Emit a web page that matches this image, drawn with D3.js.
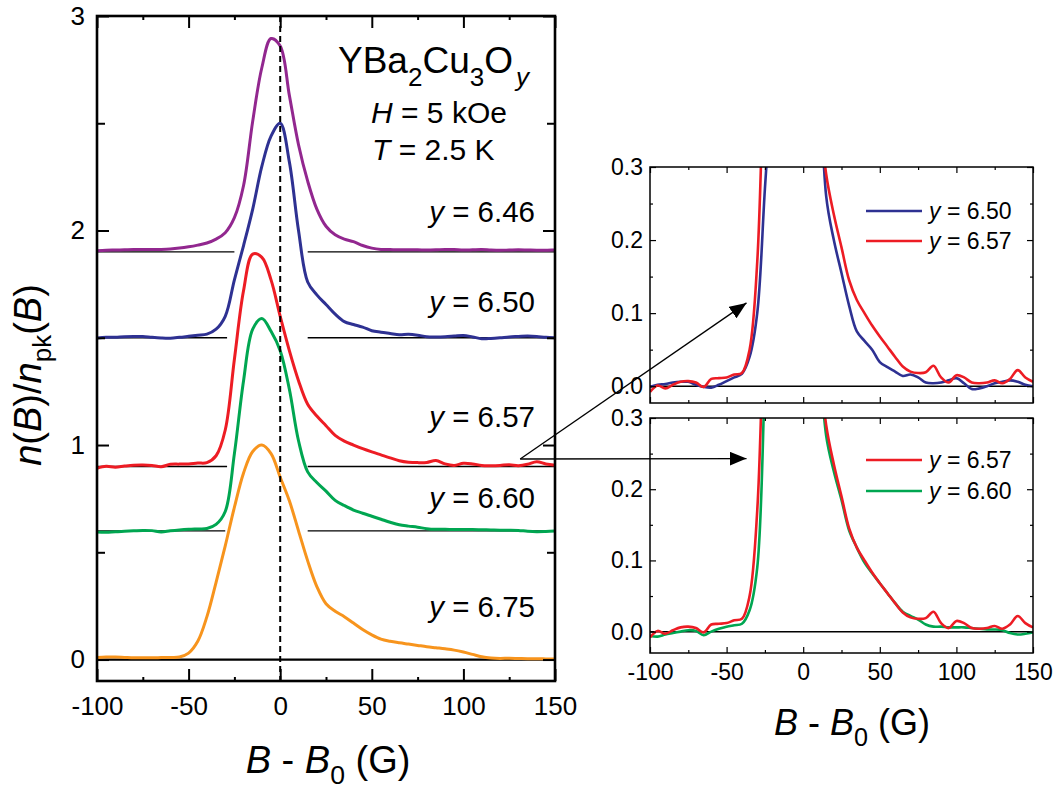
<!DOCTYPE html>
<html>
<head>
<meta charset="utf-8">
<script src="https://cdn.jsdelivr.net/npm/d3@7"></script>
<style>
  body { margin: 0; background: #fff; }
  svg { font-family: "Liberation Sans", Arial, sans-serif; }
</style>
</head>
<body>
<svg id="fig" width="1057" height="791"></svg>
<script>
// field offset B - B0 (G)
const fieldG = [-100, -95, -90, -85, -80, -75, -70, -65, -60, -55, -50, -45, -40, -35, -30, -25, -20, -15, -10, -5,
  0, 5, 10, 15, 20, 25, 30, 35, 40, 45, 50, 55, 60, 65, 70, 75, 80, 85, 90, 95, 100, 105, 110, 115, 120, 125, 130, 135, 140, 145, 150];

// n(B)/n_pk(B), each curve normalised to its peak
const n646 = [0.006, 0.008, 0.009, 0.010, 0.011, 0.011, 0.011, 0.012, 0.014, 0.018,
  0.024, 0.032, 0.042, 0.060, 0.090, 0.16, 0.31, 0.61, 0.86, 0.995,
  0.96, 0.73, 0.50, 0.33, 0.20, 0.12, 0.08, 0.06, 0.048, 0.030,
  0.018, 0.012, 0.011, 0.010, 0.010, 0.010, 0.009, 0.010, 0.012, 0.011,
  0.009, 0.010, 0.011, 0.009, 0.008, 0.009, 0.010, 0.009, 0.008, 0.008, 0.010];
const n650 = [-0.001, 0.002, 0.003, 0.005, 0.006, 0.006, 0.002, -0.001, -0.002, 0.002,
  0.007, 0.012, 0.017, 0.040, 0.10, 0.27, 0.43, 0.60, 0.80, 0.94,
  1.00, 0.82, 0.50, 0.26, 0.20, 0.155, 0.11, 0.075, 0.062, 0.050,
  0.033, 0.026, 0.020, 0.014, 0.016, 0.012, 0.005, 0.004, 0.005, 0.008,
  0.011, 0.004, -0.004, -0.003, 0.000, 0.004, 0.006, 0.008, 0.006, 0.002, 0.000];
const n657 = [-0.008, 0.001, -0.003, 0.002, 0.006, 0.007, 0.005, -0.001, 0.010, 0.011,
  0.012, 0.016, 0.018, 0.050, 0.17, 0.50, 0.82, 0.99, 0.975, 0.87,
  0.70, 0.54, 0.40, 0.29, 0.235, 0.19, 0.145, 0.118, 0.100, 0.083,
  0.068, 0.054, 0.040, 0.027, 0.020, 0.018, 0.019, 0.028, 0.012, 0.005,
  0.015, 0.012, 0.005, 0.004, 0.005, 0.008, 0.004, 0.010, 0.022, 0.012, 0.006];
const n660 = [-0.006, -0.007, -0.004, -0.002, 0.000, 0.002, 0.001, -0.005, 0.000, 0.004,
  0.007, 0.009, 0.011, 0.030, 0.090, 0.36, 0.70, 0.94, 0.99, 0.93,
  0.84, 0.66, 0.42, 0.275, 0.225, 0.185, 0.142, 0.118, 0.097, 0.082,
  0.068, 0.054, 0.040, 0.028, 0.022, 0.017, 0.010, 0.007, 0.007, 0.006,
  0.006, 0.006, 0.005, 0.004, 0.003, 0.003, 0.002, -0.002, -0.004, -0.003, -0.001];
const n675 = [0.010, 0.012, 0.012, 0.010, 0.008, 0.008, 0.008, 0.009, 0.010, 0.012,
  0.030, 0.085, 0.20, 0.36, 0.53, 0.71, 0.87, 0.97, 1.00, 0.96,
  0.85, 0.74, 0.60, 0.46, 0.34, 0.26, 0.225, 0.20, 0.17, 0.14,
  0.115, 0.095, 0.085, 0.078, 0.072, 0.066, 0.060, 0.055, 0.050, 0.044,
  0.035, 0.024, 0.013, 0.007, 0.005, 0.006, 0.005, 0.004, 0.004, 0.003, 0.002];

const oxygen = ["6.46", "6.50", "6.57", "6.60", "6.75"];
const offsets = [1.9, 1.5, 0.9, 0.6, 0];

const xMajor = [-100, -50, 0, 50, 100, 150];
const xMinor = [-75, -25, 25, 75, 125];
const yMajorL = [0, 1, 2, 3];
const yMinorL = [0.5, 1.5, 2.5];
const yMajorR = [0, 0.1, 0.2, 0.3];
const yMinorR = [0.05, 0.15, 0.25];

const colors = {"6.46": "#92278f", "6.50": "#2e3192", "6.57": "#ed1c24", "6.60": "#00a651", "6.75": "#f7941d"};
const curves = {"6.46": n646, "6.50": n650, "6.57": n657, "6.60": n660, "6.75": n675};

const svg = d3.select("#fig");
const defs = svg.append("defs");

function axes(x, y, o) {
  let g = svg.append("g");
  let [x0, x1] = x.range(), [y0, y1] = y.range();
  let fix = sel => {
    sel.select(".domain").remove();
    sel.attr("font-family", null).attr("font-size", o.font);
    sel.selectAll(".tick line").attr("stroke-width", o.tickW);
    sel.selectAll("text").attr("fill", "#000");
  };
  let xf = o.xLabels ? (d => String(d)) : "";
  g.append("g").attr("transform", `translate(0,${y0})`)
    .call(d3.axisBottom(x).tickValues(xMajor).tickSize(-o.major).tickPadding(o.xPad).tickFormat(xf)).call(fix);
  g.append("g").attr("transform", `translate(0,${y0})`)
    .call(d3.axisBottom(x).tickValues(xMinor).tickSize(-o.minorX).tickFormat("")).call(fix);
  g.append("g").attr("transform", `translate(0,${y1})`)
    .call(d3.axisTop(x).tickValues(xMajor).tickSize(-o.major).tickFormat("")).call(fix);
  g.append("g").attr("transform", `translate(0,${y1})`)
    .call(d3.axisTop(x).tickValues(xMinor).tickSize(-o.minorX).tickFormat("")).call(fix);
  g.append("g").attr("transform", `translate(${x0},0)`)
    .call(d3.axisLeft(y).tickValues(o.yMajor).tickSize(-o.major).tickPadding(o.yPad).tickFormat(o.yFmt)).call(fix);
  g.append("g").attr("transform", `translate(${x0},0)`)
    .call(d3.axisLeft(y).tickValues(o.yMinor).tickSize(-o.minorY).tickFormat("")).call(fix);
  g.append("g").attr("transform", `translate(${x1},0)`)
    .call(d3.axisRight(y).tickValues(o.yMajor).tickSize(-o.major).tickFormat("")).call(fix);
  g.append("g").attr("transform", `translate(${x1},0)`)
    .call(d3.axisRight(y).tickValues(o.yMinor).tickSize(-o.minorY).tickFormat("")).call(fix);
  g.append("rect")
    .attr("x", x0).attr("y", y1).attr("width", x1 - x0).attr("height", y0 - y1)
    .attr("fill", "none").attr("stroke", "#000").attr("stroke-width", o.frame);
}

function yLabel(sel, key, size) {
  // "y = 6.50" with italic y
  sel.append("tspan").attr("font-style", "italic").text("y");
  sel.append("tspan").text(" = " + key);
  sel.attr("font-size", size);
}

function xTitle(cx, by, size) {
  let t = svg.append("text").attr("x", cx).attr("y", by).attr("text-anchor", "middle").attr("font-size", size);
  t.append("tspan").attr("font-style", "italic").text("B");
  t.append("tspan").text(" - ");
  t.append("tspan").attr("font-style", "italic").text("B");
  t.append("tspan").attr("font-size", size * 0.7).attr("dy", size * 0.3).text("0");
  t.append("tspan").attr("dy", -size * 0.3).text(" (G)");
}

// ---------- left panel ----------
const xL = d3.scaleLinear().domain([-100, 150]).range([97, 555]);
const yL = d3.scaleLinear().domain([-0.1, 3]).range([681, 16]);

// baselines, broken around the peaks
const gapL = [-25, -29, -29, -30];
offsets.forEach((off, i) => {
  if (off === 0) {
    svg.append("line").attr("x1", xL(-100)).attr("x2", xL(150)).attr("y1", yL(0)).attr("y2", yL(0))
      .attr("stroke", "#000").attr("stroke-width", 2.2);
    return;
  }
  [[-100, gapL[i]], [15, 150]].forEach(s => {
    svg.append("line").attr("x1", xL(s[0])).attr("x2", xL(s[1])).attr("y1", yL(off)).attr("y2", yL(off))
      .attr("stroke", "#000").attr("stroke-width", 1.3);
  });
});

oxygen.forEach((key, i) => {
  let line = d3.line()
    .x((d, j) => xL(fieldG[j]))
    .y(d => yL(d + offsets[i]))
    .curve(d3.curveCatmullRom.alpha(0.5));
  svg.append("path").attr("d", line(curves[key]))
    .attr("fill", "none").attr("stroke", colors[key]).attr("stroke-width", 3);
});

svg.append("line").attr("x1", xL(0)).attr("x2", xL(0)).attr("y1", yL(3)).attr("y2", yL(-0.1))
  .attr("stroke", "#000").attr("stroke-width", 2).attr("stroke-dasharray", "6,4");

axes(xL, yL, {major: 12, minorX: 4, minorY: 8, tickW: 2, frame: 2.6, font: 26,
  xPad: 16, yPad: 12, xLabels: true, yMajor: yMajorL, yMinor: yMinorL, yFmt: d => String(d)});

// curve labels
const labelY = [222, 312, 427, 508, 617];
oxygen.forEach((key, i) => {
  svg.append("text").attr("x", 535).attr("y", labelY[i]).attr("text-anchor", "end")
    .call(yLabel, key, 29.5);
});

// compound and conditions
let comp = svg.append("text").attr("x", 338).attr("y", 73).attr("font-size", 37);
comp.append("tspan").text("YBa");
comp.append("tspan").attr("font-size", 26).attr("dy", 13).text("2");
comp.append("tspan").attr("dy", -13).text("Cu");
comp.append("tspan").attr("font-size", 26).attr("dy", 13).text("3");
comp.append("tspan").attr("dy", -13).text("O");
comp.append("tspan").attr("font-size", 26).attr("dy", 13).attr("dx", 3).attr("font-style", "italic").text("y");

let hT = svg.append("text").attr("x", 371).attr("y", 123).attr("font-size", 30);
hT.append("tspan").attr("font-style", "italic").text("H");
hT.append("tspan").text(" = 5 kOe");
let tT = svg.append("text").attr("x", 372).attr("y", 160).attr("font-size", 30);
tT.append("tspan").attr("font-style", "italic").text("T");
tT.append("tspan").text(" = 2.5 K");

// axis titles
let yt = svg.append("text").attr("transform", "translate(41,375) rotate(-90)")
  .attr("text-anchor", "middle").attr("font-size", 38);
yt.append("tspan").attr("font-style", "italic").text("n");
yt.append("tspan").text("(");
yt.append("tspan").attr("font-style", "italic").text("B");
yt.append("tspan").text(")/");
yt.append("tspan").attr("font-style", "italic").text("n");
yt.append("tspan").attr("font-size", 26).attr("dy", 10).text("pk");
yt.append("tspan").attr("dy", -10).text("(");
yt.append("tspan").attr("font-style", "italic").text("B");
yt.append("tspan").text(")");

xTitle(328, 773, 38);

// ---------- right panels ----------
const xR = d3.scaleLinear().domain([-100, 150]).range([650, 1033]);
const yU = d3.scaleLinear().domain([-0.023, 0.3]).range([403, 167]);
const yD = d3.scaleLinear().domain([-0.03, 0.3]).range([653, 418]);

function inset(y, keys, id, xLabels) {
  let [y0, y1] = y.range();
  defs.append("clipPath").attr("id", id).append("rect")
    .attr("x", xR(-100)).attr("y", y1).attr("width", xR(150) - xR(-100)).attr("height", y0 - y1);
  svg.append("line").attr("x1", xR(-100)).attr("x2", xR(150)).attr("y1", y(0)).attr("y2", y(0))
    .attr("stroke", "#000").attr("stroke-width", 1.5);
  let g = svg.append("g").attr("clip-path", `url(#${id})`);
  keys.forEach(key => {
    let line = d3.line()
      .x((d, j) => xR(fieldG[j]))
      .y(d => y(d))
      .curve(d3.curveCatmullRom.alpha(0.5));
    g.append("path").attr("d", line(curves[key]))
      .attr("fill", "none").attr("stroke", colors[key]).attr("stroke-width", 2.6);
  });
  axes(xR, y, {major: 6, minorX: 3, minorY: 3, tickW: 1.2, frame: 1.5, font: 23,
    xPad: 11, yPad: 7, xLabels: xLabels, yMajor: yMajorR, yMinor: yMinorR, yFmt: d3.format(".1f")});
}

inset(yU, ["6.50", "6.57"], "clipU", false);
inset(yD, ["6.60", "6.57"], "clipD", true);

const legends = [
  {keys: ["6.50", "6.57"], rows: [211, 241]},
  {keys: ["6.57", "6.60"], rows: [460, 491]}
];
legends.forEach(l => {
  l.keys.forEach((key, i) => {
    svg.append("line").attr("x1", 866).attr("x2", 922).attr("y1", l.rows[i]).attr("y2", l.rows[i])
      .attr("stroke", colors[key]).attr("stroke-width", 2.6);
    svg.append("text").attr("x", 929).attr("y", l.rows[i] + 8).call(yLabel, key, 23);
  });
});

xTitle(852, 735, 36);

// ---------- arrows ----------
defs.append("marker").attr("id", "head")
  .attr("viewBox", "0 0 17 14").attr("refX", 17).attr("refY", 7)
  .attr("markerWidth", 17).attr("markerHeight", 14)
  .attr("markerUnits", "userSpaceOnUse").attr("orient", "auto")
  .append("path").attr("d", "M0,0L17,7L0,14Z").attr("fill", "#000");

const start = [xL(131), yL(0.935)];
[[xR(-37), yU(0.114)], [xR(-37), yD(0.243)]].forEach(end => {
  svg.append("line").attr("x1", start[0]).attr("y1", start[1]).attr("x2", end[0]).attr("y2", end[1])
    .attr("stroke", "#000").attr("stroke-width", 1.3).attr("marker-end", "url(#head)");
});
</script>
</body>
</html>
